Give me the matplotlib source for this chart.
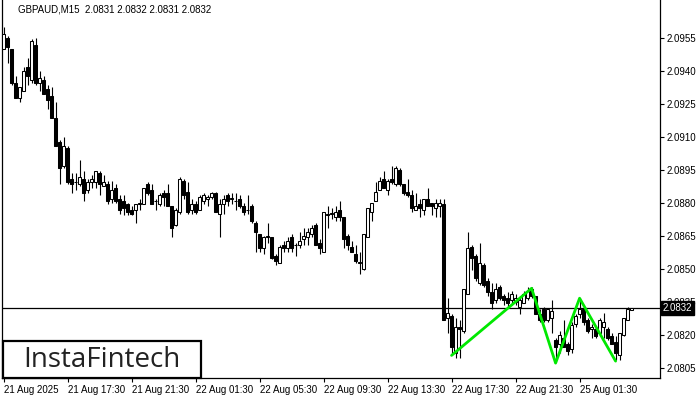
import matplotlib
matplotlib.use("Agg")
import matplotlib.pyplot as plt
from matplotlib.patches import Rectangle
from matplotlib.transforms import blended_transform_factory

# GBPAUD M15 candles
opens = [2.09500, 2.09550, 2.09500, 2.09341, 2.09277, 2.09309, 2.09414, 2.09355, 2.09514, 2.09345,
         2.09359, 2.09314, 2.09286, 2.09186, 2.09073, 2.08968, 2.09050, 2.08909, 2.08891, 2.08882,
         2.08909, 2.08859, 2.08895, 2.08895, 2.08932, 2.08877, 2.08882, 2.08814, 2.08868, 2.08818,
         2.08809, 2.08791, 2.08768, 2.08768, 2.08791, 2.08795, 2.08882, 2.08859, 2.08809, 2.08795,
         2.08841, 2.08841, 2.08782, 2.08700, 2.08755, 2.08900, 2.08850, 2.08768, 2.08795, 2.08768,
         2.08805, 2.08814, 2.08823, 2.08841, 2.08750, 2.08795, 2.08832, 2.08818, 2.08805, 2.08818,
         2.08782, 2.08768, 2.08782, 2.08709, 2.08659, 2.08591, 2.08641, 2.08641, 2.08559, 2.08527,
         2.08609, 2.08595, 2.08641, 2.08605, 2.08605, 2.08636, 2.08641, 2.08655, 2.08700, 2.08618,
         2.08573, 2.08750, 2.08750, 2.08736, 2.08768, 2.08732, 2.08650, 2.08600, 2.08568, 2.08527,
         2.08500, 2.08645, 2.08759, 2.08809, 2.08859, 2.08909, 2.08859, 2.08909, 2.08882, 2.08950,
         2.08882, 2.08850, 2.08836, 2.08768, 2.08791, 2.08768, 2.08818, 2.08800, 2.08777, 2.08786,
         2.08791, 2.08273, 2.08286, 2.08114, 2.08236, 2.08218, 2.08386, 2.08600, 2.08559, 2.08436,
         2.08518, 2.08441, 2.08391, 2.08355, 2.08418, 2.08377, 2.08368, 2.08355, 2.08350, 2.08323,
         2.08345, 2.08368, 2.08405, 2.08373, 2.08291, 2.08314, 2.08264, 2.08277, 2.08177, 2.08159,
         2.08186, 2.08155, 2.08132, 2.08250, 2.08295, 2.08314, 2.08268, 2.08227, 2.08227, 2.08205,
         2.08232, 2.08227, 2.08195, 2.08168, 2.08105, 2.08200, 2.08268, 2.08312]
highs = [2.09600, 2.09559, 2.09500, 2.09377, 2.09323, 2.09418, 2.09459, 2.09545, 2.09550, 2.09400,
         2.09377, 2.09332, 2.09323, 2.09255, 2.09082, 2.09100, 2.09059, 2.08936, 2.08932, 2.08991,
         2.08941, 2.08909, 2.08923, 2.08941, 2.08941, 2.08923, 2.08900, 2.08900, 2.08882, 2.08836,
         2.08832, 2.08800, 2.08786, 2.08795, 2.08818, 2.08868, 2.08891, 2.08886, 2.08814, 2.08845,
         2.08855, 2.08886, 2.08782, 2.08773, 2.08914, 2.08905, 2.08891, 2.08814, 2.08805, 2.08832,
         2.08841, 2.08836, 2.08850, 2.08850, 2.08814, 2.08836, 2.08841, 2.08845, 2.08841, 2.08832,
         2.08800, 2.08832, 2.08795, 2.08714, 2.08659, 2.08650, 2.08709, 2.08645, 2.08568, 2.08609,
         2.08623, 2.08641, 2.08659, 2.08614, 2.08664, 2.08686, 2.08686, 2.08700, 2.08705, 2.08632,
         2.08759, 2.08786, 2.08777, 2.08786, 2.08809, 2.08736, 2.08659, 2.08627, 2.08609, 2.08573,
         2.08659, 2.08777, 2.08800, 2.08891, 2.08918, 2.08941, 2.08909, 2.08968, 2.08964, 2.08955,
         2.08886, 2.08909, 2.08859, 2.08841, 2.08818, 2.08818, 2.08868, 2.08800, 2.08818, 2.08818,
         2.08818, 2.08368, 2.08291, 2.08273, 2.08264, 2.08409, 2.08668, 2.08609, 2.08568, 2.08614,
         2.08523, 2.08459, 2.08432, 2.08432, 2.08423, 2.08386, 2.08391, 2.08400, 2.08386, 2.08377,
         2.08400, 2.08414, 2.08414, 2.08377, 2.08318, 2.08323, 2.08318, 2.08359, 2.08186, 2.08218,
         2.08268, 2.08164, 2.08255, 2.08291, 2.08364, 2.08323, 2.08277, 2.08250, 2.08236, 2.08273,
         2.08300, 2.08232, 2.08205, 2.08195, 2.08209, 2.08277, 2.08327, 2.08322]
lows = [2.09500, 2.09436, 2.09332, 2.09273, 2.09255, 2.09309, 2.09332, 2.09345, 2.09332, 2.09309,
        2.09295, 2.09227, 2.09186, 2.09055, 2.08882, 2.08955, 2.08886, 2.08841, 2.08859, 2.08877,
        2.08805, 2.08841, 2.08868, 2.08868, 2.08832, 2.08873, 2.08795, 2.08800, 2.08800, 2.08750,
        2.08741, 2.08741, 2.08741, 2.08709, 2.08768, 2.08795, 2.08832, 2.08795, 2.08764, 2.08782,
        2.08786, 2.08786, 2.08645, 2.08695, 2.08750, 2.08814, 2.08750, 2.08750, 2.08750, 2.08764,
        2.08791, 2.08786, 2.08814, 2.08755, 2.08641, 2.08750, 2.08786, 2.08795, 2.08768, 2.08773,
        2.08741, 2.08750, 2.08705, 2.08573, 2.08573, 2.08568, 2.08618, 2.08545, 2.08518, 2.08523,
        2.08573, 2.08573, 2.08573, 2.08555, 2.08591, 2.08605, 2.08605, 2.08641, 2.08605, 2.08564,
        2.08573, 2.08682, 2.08723, 2.08714, 2.08718, 2.08591, 2.08586, 2.08573, 2.08527, 2.08477,
        2.08491, 2.08641, 2.08714, 2.08805, 2.08855, 2.08864, 2.08832, 2.08886, 2.08877, 2.08877,
        2.08836, 2.08827, 2.08755, 2.08764, 2.08736, 2.08745, 2.08782, 2.08741, 2.08736, 2.08736,
        2.08264, 2.08209, 2.08105, 2.08095, 2.08095, 2.08209, 2.08386, 2.08495, 2.08445, 2.08423,
        2.08414, 2.08373, 2.08318, 2.08345, 2.08355, 2.08332, 2.08327, 2.08332, 2.08332, 2.08295,
        2.08341, 2.08355, 2.08368, 2.08291, 2.08259, 2.08255, 2.08255, 2.08209, 2.08073, 2.08114,
        2.08141, 2.08105, 2.08114, 2.08236, 2.08277, 2.08245, 2.08209, 2.08186, 2.08186, 2.08195,
        2.08186, 2.08177, 2.08155, 2.08082, 2.08082, 2.08195, 2.08264, 2.08310]
closes = [2.09568, 2.09509, 2.09345, 2.09273, 2.09323, 2.09400, 2.09373, 2.09532, 2.09341, 2.09368,
          2.09295, 2.09264, 2.09186, 2.09055, 2.08955, 2.09059, 2.08895, 2.08882, 2.08891, 2.08918,
          2.08845, 2.08891, 2.08909, 2.08941, 2.08886, 2.08891, 2.08805, 2.08859, 2.08809, 2.08764,
          2.08777, 2.08755, 2.08750, 2.08791, 2.08800, 2.08868, 2.08845, 2.08795, 2.08805, 2.08832,
          2.08827, 2.08786, 2.08686, 2.08768, 2.08909, 2.08836, 2.08755, 2.08791, 2.08755, 2.08823,
          2.08832, 2.08827, 2.08845, 2.08755, 2.08791, 2.08818, 2.08805, 2.08818, 2.08809, 2.08786,
          2.08755, 2.08766, 2.08714, 2.08664, 2.08595, 2.08645, 2.08650, 2.08550, 2.08536, 2.08600,
          2.08591, 2.08627, 2.08591, 2.08605, 2.08627, 2.08650, 2.08668, 2.08686, 2.08605, 2.08591,
          2.08759, 2.08741, 2.08750, 2.08759, 2.08736, 2.08636, 2.08609, 2.08573, 2.08536, 2.08527,
          2.08659, 2.08773, 2.08800, 2.08850, 2.08900, 2.08864, 2.08900, 2.08891, 2.08955, 2.08882,
          2.08841, 2.08836, 2.08777, 2.08782, 2.08777, 2.08814, 2.08786, 2.08786, 2.08800, 2.08800,
          2.08264, 2.08300, 2.08145, 2.08232, 2.08223, 2.08405, 2.08591, 2.08550, 2.08459, 2.08523,
          2.08423, 2.08395, 2.08345, 2.08409, 2.08364, 2.08359, 2.08345, 2.08382, 2.08368, 2.08359,
          2.08382, 2.08400, 2.08377, 2.08295, 2.08268, 2.08264, 2.08314, 2.08309, 2.08145, 2.08200,
          2.08145, 2.08123, 2.08241, 2.08282, 2.08314, 2.08255, 2.08214, 2.08236, 2.08195, 2.08268,
          2.08259, 2.08186, 2.08159, 2.08114, 2.08205, 2.08277, 2.08314, 2.08320]

time_labels = ["21 Aug 2025", "21 Aug 17:30", "21 Aug 21:30", "22 Aug 01:30", "22 Aug 05:30",
               "22 Aug 09:30", "22 Aug 13:30", "22 Aug 17:30", "22 Aug 21:30", "25 Aug 01:30"]
label_bars = [0, 16, 32, 48, 64, 80, 96, 112, 128, 144]

price_ticks = [2.0805, 2.0820, 2.0835, 2.0850, 2.0865, 2.0880, 2.0895, 2.0910, 2.0925, 2.0940, 2.0955]

# green zig-zag of the pattern (bar index, price)
pattern_bars = [112, 132, 138, 144, 153]
pattern_prices = [2.08105, 2.08410, 2.08070, 2.08365, 2.08079]

last_price = 2.0832
title = "GBPAUD,M15  2.0831 2.0832 2.0831 2.0832"

small_font = "Liberation Sans"

fig = plt.figure(figsize=(7, 4), dpi=100)
ax = fig.add_axes([1.5 / 700, 22 / 400, (660 - 1.5) / 700, 378 / 400])

n = len(opens)
for i in range(n):
    o, h, l, c = opens[i], highs[i], lows[i], closes[i]
    ax.vlines(i, l, h, color="black", lw=0.8, zorder=2)
    bottom = min(o, c)
    height = max(abs(c - o), 0.000004)
    face = "white" if c >= o else "black"
    ax.add_patch(Rectangle((i - 0.34, bottom), 0.68, height, facecolor=face,
                           edgecolor="black", lw=0.75, zorder=3))

ax.plot(pattern_bars, pattern_prices, color="#00e800", lw=2, zorder=4, solid_capstyle="round")
ax.axhline(last_price, color="black", lw=0.9, zorder=1)

ax.set_xlim(-0.5, 164.1)
ax.set_ylim(2.080023, 2.097205)

ax.spines["top"].set_visible(False)
for s in ["left", "right", "bottom"]:
    ax.spines[s].set_linewidth(0.9)

ax.yaxis.tick_right()
ax.set_yticks(price_ticks)
ax.set_yticklabels(["%.4f" % p for p in price_ticks], family=small_font)
ax.tick_params(axis="y", direction="out", length=3, width=0.8, labelsize=7, pad=2)

ax.set_xticks(label_bars)
ax.set_xticklabels(time_labels, ha="left", family=small_font)
ax.tick_params(axis="x", direction="out", length=3, width=0.8, labelsize=7, pad=2)

# current price tag on the price scale
trans = blended_transform_factory(ax.transAxes, ax.transData)
ax.text(1.004, last_price, "2.0832", transform=trans, color="white", fontsize=7,
        family=small_font, va="center", ha="left", zorder=10,
        bbox=dict(boxstyle="square,pad=0.2", facecolor="black", edgecolor="black"))

fig.text(18 / 700, 1 - 10 / 400, title, fontsize=7, family=small_font, va="center", ha="left")

# watermark box
fig.patches.append(Rectangle((3 / 700, 22 / 400), 198 / 700, 37 / 400, transform=fig.transFigure,
                             facecolor="white", edgecolor="black", lw=1.6, zorder=20))
fig.text(102 / 700, 1 - 360 / 400, "InstaFintech", fontsize=20, family="Open Sans",
         color="#222222", ha="center", va="center", zorder=21)

fig.savefig("out.png", dpi=100)
